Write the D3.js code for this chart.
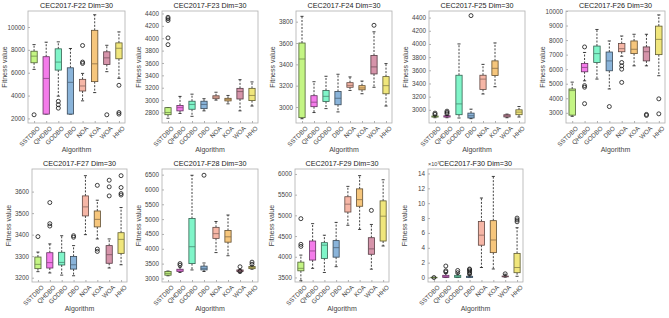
<!DOCTYPE html>
<html>
<head>
<meta charset="utf-8">
<script src="https://cdn.jsdelivr.net/npm/d3@7"></script>
<style>
  body { margin: 0; background: #fff; }
  svg { font-family: "Liberation Sans", Arial, sans-serif; }
</style>
</head>
<body>
<div id="chart"></div>
<script>
// algorithms on every x axis
const algorithms = ["SSTDBO", "QHDBO", "GODBO", "DBO", "NOA", "KOA", "WOA", "HHO"];
const boxColors = ["#c4f584", "#f47cea", "#80f5c9", "#8ab4da", "#f6b6a6", "#f6c67c", "#d694aa", "#f0e67c"];

const panelTitles = ["CEC2017-F22 Dim=30", "CEC2017-F23 Dim=30", "CEC2017-F24 Dim=30", "CEC2017-F25 Dim=30",
    "CEC2017-F26 Dim=30", "CEC2017-F27 Dim=30", "CEC2017-F28 Dim=30", "CEC2017-F29 Dim=30", "CEC2017-F30 Dim=30"];

const yDomains = [[1600, 11400], [2630, 4440], [2850, 3900], [2800, 4500], [2300, 10000],
    [3180, 3705], [2880, 6690], [3390, 6120], [-0.6, 14.6]];
const yTicks = [
    [2000, 4000, 6000, 8000, 10000],
    [2800, 3000, 3200, 3400, 3600, 3800, 4000, 4200, 4400],
    [3000, 3200, 3400, 3600, 3800],
    [3000, 3200, 3400, 3600, 3800, 4000, 4200, 4400],
    [3000, 4000, 5000, 6000, 7000, 8000, 9000, 10000],
    [3200, 3300, 3400, 3500, 3600],
    [3000, 3500, 4000, 4500, 5000, 5500, 6000, 6500],
    [3500, 4000, 4500, 5000, 5500, 6000],
    [0, 2, 4, 6, 8, 10, 12, 14]
];

// [low whisker, q1, median, q3, high whisker] per algorithm
const f22Stats = [[6290, 6870, 7450, 7880, 8460], [2380, 2380, 5500, 7400, 8670], [3950, 6230, 6930, 8090, 8700],
    [2380, 2380, 5160, 6430, 8120], [3540, 4400, 4840, 5420, 5940], [4260, 5220, 6780, 9710, 11070],
    [6090, 6720, 7300, 7830, 8400], [5510, 7220, 8140, 8610, 9570]];
const f22Outliers = [[2320], [], [3500, 3200, 2900], [], [8380, 6930, 6810], [], [2320], [4900, 2520, 2380]];

const f23Stats = [[2707, 2764, 2800, 2878, 2878], [2784, 2826, 2878, 2914, 3060], [2738, 2852, 2930, 2982, 3096],
    [2826, 2862, 2930, 2982, 3023], [3000, 3023, 3050, 3070, 3127], [2940, 2987, 3013, 3029, 3075],
    [2826, 3018, 3138, 3190, 3330], [2904, 2992, 3075, 3190, 3294]];
const f23Outliers = [[4338, 4315, 4286, 4005, 3896], [], [], [], [], [], [], []];

const f24Stats = [[2890, 2900, 3450, 3600, 3850], [2948, 3003, 3045, 3106, 3237], [2985, 3051, 3100, 3155, 3288],
    [2954, 3021, 3082, 3146, 3307], [3155, 3185, 3203, 3228, 3282], [3124, 3161, 3179, 3200, 3243],
    [3185, 3310, 3376, 3483, 3705], [3009, 3124, 3200, 3285, 3407]];
const f24Outliers = [[], [], [], [], [], [], [3766], []];

const f25Stats = [[2880, 2890, 2900, 2906, 2912], [2880, 2890, 2900, 2910, 2915], [2876, 2926, 3090, 3525, 4000],
    [2866, 2876, 2910, 2950, 3010], [3240, 3310, 3466, 3525, 3690], [3350, 3520, 3630, 3743, 4015],
    [2880, 2892, 2910, 2925, 2935], [2891, 2926, 2965, 3000, 3050]];
const f25Outliers = [[2930, 2950], [2940, 2960, 2980], [], [4430], [], [], [], []];

const f26Stats = [[2760, 2840, 4530, 4640, 5110], [5200, 5820, 6120, 6390, 7150], [5320, 6460, 7070, 7590, 8730],
    [4640, 5890, 6570, 7180, 7940], [6890, 7200, 7410, 7760, 8280], [6230, 7070, 7370, 7940, 8400],
    [6230, 6570, 7200, 7530, 8400], [5550, 7000, 8050, 8960, 9730]];
const f26Outliers = [[], [7530, 4870, 4760, 3630], [], [3430], [6460, 6230, 6000, 5090], [], [2890, 2820], [3960, 2930]];

const f27Stats = [[3228, 3242, 3262, 3296, 3319], [3222, 3245, 3270, 3316, 3357], [3212, 3259, 3271, 3318, 3395],
    [3209, 3240, 3260, 3299, 3349], [3400, 3487, 3529, 3580, 3674], [3380, 3436, 3471, 3510, 3560],
    [3245, 3267, 3307, 3349, 3380], [3260, 3313, 3378, 3409, 3526]];
const f27Outliers = [[3391], [3549, 3451, 3440], [], [3395, 3388], [], [3629, 3333, 3322], [3653, 3622, 3580],
    [3674, 3619, 3591, 3584]];

const f28Stats = [[3090, 3110, 3170, 3234, 3250], [3202, 3234, 3287, 3310, 3380], [3287, 3500, 4070, 5021, 6479],
    [3234, 3287, 3340, 3415, 3521], [3872, 4351, 4510, 4723, 4920], [3766, 4223, 4404, 4617, 5138],
    [3200, 3234, 3260, 3287, 3300], [3310, 3330, 3370, 3400, 3430]];
const f28Outliers = [[], [3500, 3447], [], [6480], [], [], [3394, 3230], [3479, 3550]];

const f29Stats = [[3420, 3660, 3720, 3870, 4040], [3720, 3920, 4140, 4380, 4800], [3620, 3960, 4280, 4340, 4520],
    [3760, 3990, 4220, 4390, 4830], [4760, 5080, 5270, 5450, 5700], [4660, 5220, 5380, 5640, 5960],
    [3700, 4060, 4190, 4460, 4780], [4260, 4380, 4980, 5350, 5860]];
const f29Outliers = [[4920, 4300, 4250], [], [], [], [], [], [5120], []];

// F30 values are in units of 1e7
const f30Stats = [[-0.05, -0.02, 0, 0.03, 0.06], [0, 0.02, 0.13, 0.3, 0.6], [0, 0.02, 0.12, 0.3, 0.6],
    [0, 0.01, 0.08, 0.17, 0.35], [1.35, 4.35, 5.7, 7.55, 10.7], [1.15, 3.35, 5.05, 7.65, 13.6],
    [0.05, 0.1, 0.13, 0.2, 0.45], [0.17, 0.65, 1.35, 3.25, 6.7]];
const f30Outliers = [[0], [0.75, 0.9, 1.55], [0.65, 0.95], [0.45, 0.65, 0.85, 1.05, 1.15], [], [], [0.5], [8.0, 7.75, 7.5]];

const allStats = [f22Stats, f23Stats, f24Stats, f25Stats, f26Stats, f27Stats, f28Stats, f29Stats, f30Stats];
const allOutliers = [f22Outliers, f23Outliers, f24Outliers, f25Outliers, f26Outliers, f27Outliers, f28Outliers,
    f29Outliers, f30Outliers];

const width = 669, height = 318;

// plot-area rectangles [left, top, width, height]
const panelBoxes = [
    [28, 11, 97, 112], [162, 11, 96, 112], [296, 11, 96, 112], [429, 11, 96, 112], [566, 11, 99, 112],
    [32, 169, 95, 113], [162, 169, 96, 113], [295, 169, 94, 113], [428, 169, 95, 113]
];

const svg = d3.select("#chart").append("svg")
    .attr("width", width)
    .attr("height", height);

const frameColor = "#b0b0b0";
const textColor = "#444";

panelTitles.forEach((title, p) => {
    const [left, top, w, h] = panelBoxes[p];
    const g = svg.append("g");

    let x = d3.scalePoint()
        .domain(algorithms)
        .range([left, left + w])
        .padding(0.5);
    let step = x.step();

    let y = d3.scaleLinear()
        .domain(yDomains[p])
        .range([top + h, top]);

    // frame
    g.append("rect")
        .attr("x", left).attr("y", top)
        .attr("width", w).attr("height", h)
        .attr("fill", "none")
        .attr("stroke", frameColor)
        .attr("stroke-width", 0.8);

    // y axis
    let yAxis = g.append("g")
        .attr("transform", `translate(${left},0)`)
        .call(d3.axisLeft(y).tickValues(yTicks[p]).tickFormat(d3.format("d")).tickSize(-2).tickPadding(3));
    yAxis.select(".domain").remove();
    yAxis.selectAll("line").attr("stroke", frameColor);
    yAxis.selectAll("text").attr("font-size", 6.3).attr("fill", textColor);

    // x axis
    let xAxis = g.append("g")
        .attr("transform", `translate(0,${top + h})`)
        .call(d3.axisBottom(x).tickSize(-2).tickPadding(2));
    xAxis.select(".domain").remove();
    xAxis.selectAll("line").attr("stroke", frameColor);
    xAxis.selectAll("text")
        .attr("font-size", 6.3)
        .attr("fill", textColor)
        .attr("text-anchor", "end")
        .attr("dy", "0.3em")
        .attr("transform", "translate(3,3) rotate(-45)");

    // title
    g.append("text")
        .attr("x", left + w / 2)
        .attr("y", top - 3)
        .attr("text-anchor", "middle")
        .attr("font-size", 7.2)
        .attr("fill", "#222")
        .text(title);

    // axis labels
    g.append("text")
        .attr("x", left + w / 2)
        .attr("y", top + h + 29)
        .attr("text-anchor", "middle")
        .attr("font-size", 7)
        .attr("fill", textColor)
        .text("Algorithm");

    g.append("text")
        .attr("transform", `translate(${left - 21},${top + h / 2}) rotate(-90)`)
        .attr("text-anchor", "middle")
        .attr("font-size", 7)
        .attr("fill", textColor)
        .text("Fitness value");

    if (p === 8) {
        let ex = g.append("text")
            .attr("x", left)
            .attr("y", top - 3)
            .attr("font-size", 5.5)
            .attr("fill", textColor);
        ex.append("tspan").text("\u00d710");
        ex.append("tspan").attr("dy", -2.5).attr("font-size", 4.2).text("7");
    }

    let boxW = step * 0.52;
    let capW = step * 0.26;

    allStats[p].forEach((s, i) => {
        let cx = x(algorithms[i]);
        let [lo, q1, med, q3, hi] = s;
        let col = boxColors[i];
        let edge = d3.color(col).darker(2.6).formatHex();
        let medCol = d3.color(col).darker(1.6).formatHex();

        // whiskers
        g.append("line")
            .attr("x1", cx).attr("x2", cx)
            .attr("y1", y(q3)).attr("y2", y(hi))
            .attr("stroke", "#111").attr("stroke-width", 0.8)
            .attr("stroke-dasharray", "2,1.5");
        g.append("line")
            .attr("x1", cx).attr("x2", cx)
            .attr("y1", y(q1)).attr("y2", y(lo))
            .attr("stroke", "#111").attr("stroke-width", 0.8)
            .attr("stroke-dasharray", "2,1.5");
        [lo, hi].forEach(v => {
            g.append("line")
                .attr("x1", cx - capW / 2).attr("x2", cx + capW / 2)
                .attr("y1", y(v)).attr("y2", y(v))
                .attr("stroke", "#111").attr("stroke-width", 0.8);
        });

        // box
        g.append("rect")
            .attr("x", cx - boxW / 2)
            .attr("y", y(q3))
            .attr("width", boxW)
            .attr("height", Math.max(0.5, y(q1) - y(q3)))
            .attr("fill", col)
            .attr("stroke", edge)
            .attr("stroke-width", 0.8);

        // median
        g.append("line")
            .attr("x1", cx - boxW / 2).attr("x2", cx + boxW / 2)
            .attr("y1", y(med)).attr("y2", y(med))
            .attr("stroke", medCol).attr("stroke-width", 0.8);

        // outliers
        g.selectAll(null)
            .data(allOutliers[p][i])
            .enter()
            .append("circle")
            .attr("cx", cx)
            .attr("cy", d => y(d))
            .attr("r", 2)
            .attr("fill", "none")
            .attr("stroke", "#111")
            .attr("stroke-width", 0.8);
    });
});
</script>
</body>
</html>
